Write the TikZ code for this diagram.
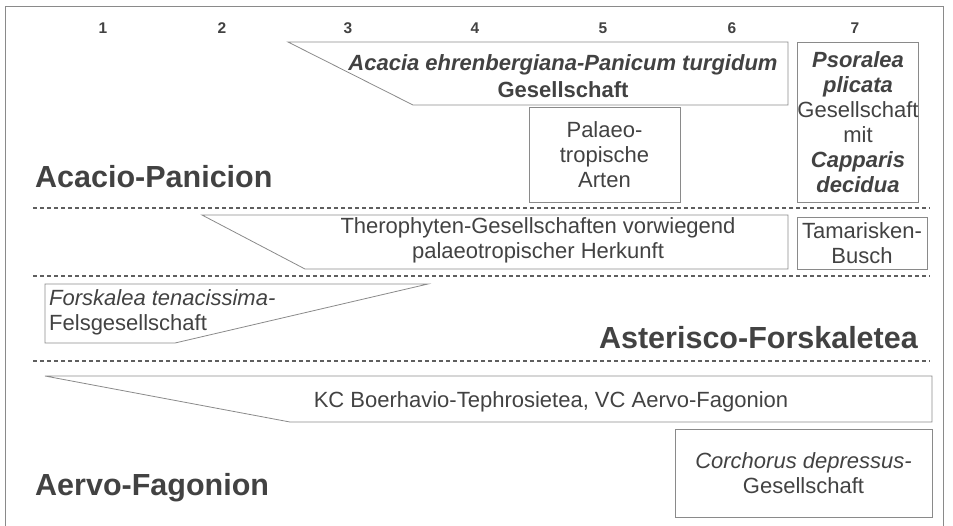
\documentclass[tikz,border=0pt]{standalone}
\usepackage{fontspec}
\setmainfont{Liberation Sans}
\usepackage{xcolor}
\usepackage{tikz}
\usetikzlibrary{positioning}

\definecolor{inkgray}{HTML}{424242}
\definecolor{linegray}{HTML}{8A8A8A}

\begin{document}
\begin{tikzpicture}[x=1pt, y=-1pt,
    txt/.style={text=inkgray, font=\fontsize{22}{25}\selectfont, inner sep=0pt, align=center},
    colnum/.style={text=inkgray, font=\fontsize{15.5}{17}\selectfont\bfseries, inner sep=0pt},
    alliance/.style={text=inkgray, font=\fontsize{30.5}{34}\selectfont\bfseries, inner sep=0pt},
    framebox/.style={draw=linegray, line width=0.8pt, rectangle},
    divider/.style={draw=inkgray!85, line width=2.6pt, dash pattern=on 4pt off 3pt}]
    \useasboundingbox (0,0) rectangle (953,525);
    \draw[linegray, line width=1pt] (5,530) -- (5,6) -- (943,6) -- (943,530);

    % column numbers
    \foreach \n/\x in {1/103, 2/222, 3/348, 4/475, 5/603, 6/732, 7/855}
        \node[colnum] (col\n) at (\x,28) {\n};

    % Acacio-Panicion
    \draw[framebox] (288,42) -- (788,42) -- (788,105) -- (413,105) -- cycle;
    \node[txt, font=\fontsize{22}{27}\selectfont\bfseries] (acacia) at (563,76.5) {\textit{Acacia ehrenbergiana-Panicum turgidum}\\Gesellschaft};
    \node[txt, framebox, minimum width=151pt, minimum height=95pt] (palaeo) at (604.5,154.5) {Palaeo-\\tropische\\Arten};
    \node[txt, framebox, minimum width=120pt, minimum height=160pt] (psoralea) at (858,122) {\textbf{\textit{Psoralea}}\\\textbf{\textit{plicata}}\\Gesellschaft\\mit\\\textbf{\textit{Capparis}}\\\textbf{\textit{decidua}}};
    \node[alliance, anchor=west] (acapan) at (35,177) {Acacio-Panicion};

    \draw[divider] (33,208) -- (930,208);

    \draw[framebox] (202,215) -- (788,215) -- (788,269) -- (305,269) -- cycle;
    \node[txt] (thero) at (538,240) {Therophyten-Gesellschaften vorwiegend\\palaeotropischer Herkunft};
    \node[txt, framebox, minimum width=130pt, minimum height=52pt] (tamar) at (862,243) {Tamarisken-\\Busch};

    \draw[divider] (33,276) -- (930,276);

    % Asterisco-Forskaletea
    \draw[framebox] (45,284) -- (428,284) -- (175,343) -- (45,343) -- cycle;
    \node[txt, align=left, anchor=west] (forsk) at (49,312.5) {\textit{Forskalea tenacissima-}\\Felsgesellschaft};
    \node[alliance, anchor=east] (astfor) at (918,338) {Asterisco-Forskaletea};

    \draw[divider] (33,361) -- (930,361);

    % Aervo-Fagonion
    \draw[framebox] (45,376) -- (932,376) -- (932,422) -- (290,422) -- cycle;
    \node[txt] (kc) at (551,402) {KC Boerhavio-Tephrosietea, VC Aervo-Fagonion};
    \node[txt, framebox, minimum width=257pt, minimum height=88pt] (corch) at (803.5,473) {\textit{Corchorus depressus-}\\Gesellschaft};
    \node[alliance, anchor=west] (aervo) at (35,488) {Aervo-Fagonion};
\end{tikzpicture}
\end{document}
